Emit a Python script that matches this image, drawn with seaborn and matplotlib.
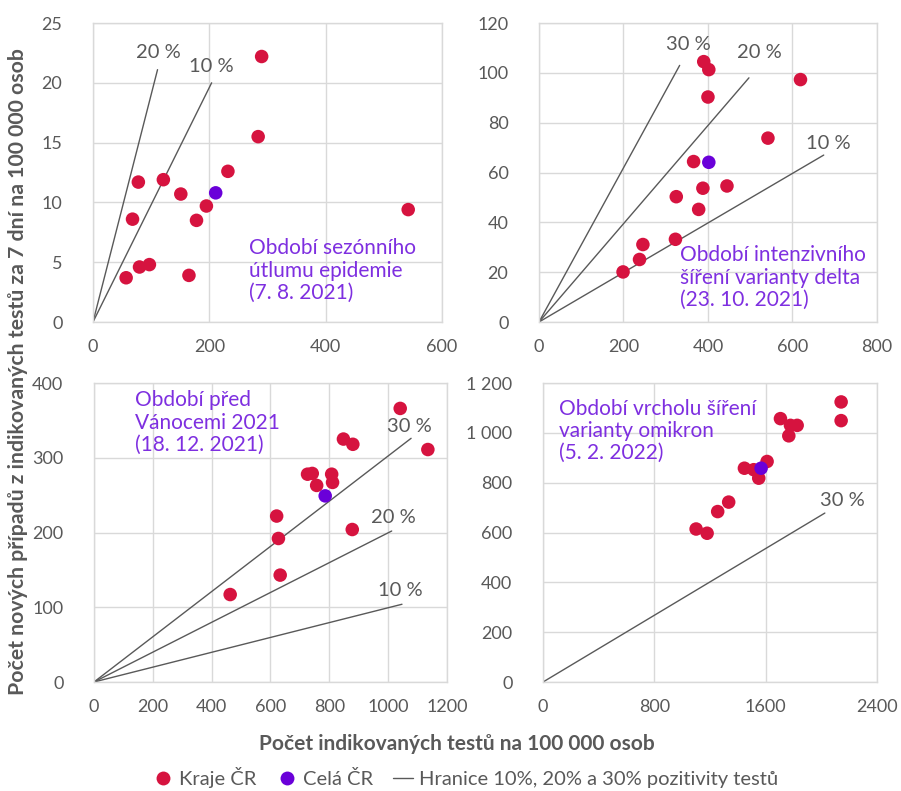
import numpy as np
import pandas as pd
import matplotlib.pyplot as plt
import seaborn as sns
from matplotlib.lines import Line2D

plt.switch_backend("Agg")

# --- data ---
# panel 1: 7. 8. 2021
p1_kraje_x = [290, 284, 232, 121, 78, 151, 195, 178, 68, 542, 80, 97, 57, 165]
p1_kraje_y = [22.2, 15.5, 12.6, 11.9, 11.7, 10.7, 9.7, 8.5, 8.6, 9.4, 4.6, 4.8, 3.7, 3.9]
p1_cr_x = [211]
p1_cr_y = [10.8]
p1_lines = ["20 %", "10 %"]
p1_line_x = [111, 204]
p1_line_y = [21.1, 20.0]
p1_label_x = [112, 204]
p1_label_y = [22.5, 21.4]

# panel 2: 23. 10. 2021
p2_kraje_x = [390, 402, 400, 619, 542, 366, 388, 445, 325, 378, 323, 246, 238, 199]
p2_kraje_y = [104.5, 101.3, 90.3, 97.3, 73.8, 64.4, 53.7, 54.6, 50.3, 45.2, 33.2, 31.1, 25.1, 20.1]
p2_cr_x = [402]
p2_cr_y = [64.1]
p2_lines = ["30 %", "20 %", "10 %"]
p2_line_x = [333, 497, 674]
p2_line_y = [103, 98, 67]
p2_label_x = [354, 522, 684]
p2_label_y = [111.3, 108, 71.8]

# panel 3: 18. 12. 2021
p3_kraje_x = [1041, 1135, 848, 880, 726, 742, 808, 811, 757, 621, 627, 878, 633, 463]
p3_kraje_y = [366, 311, 325, 318, 278, 279, 278, 267, 263, 222, 192, 204, 143, 117]
p3_cr_x = [786]
p3_cr_y = [249]
p3_lines = ["30 %", "20 %", "10 %"]
p3_line_x = [1078, 1012, 1047]
p3_line_y = [326, 202, 104]
p3_label_x = [1071, 1017, 1043]
p3_label_y = [342, 220, 123]

# panel 4: 5. 2. 2022
p4_kraje_x = [2142, 2142, 1706, 1778, 1826, 1766, 1610, 1447, 1514, 1550, 1334, 1255, 1100, 1179]
p4_kraje_y = [1124, 1049, 1057, 1030, 1030, 988, 885, 858, 852, 818, 722, 684, 614, 597]
p4_cr_x = [1567]
p4_cr_y = [858]
p4_lines = ["30 %"]
p4_line_x = [2025]
p4_line_y = [678]
p4_label_x = [2149]
p4_label_y = [728]

titles = [
    "Období sezónního\nútlumu epidemie\n(7. 8. 2021)",
    "Období intenzivního\nšíření varianty delta\n(23. 10. 2021)",
    "Období před\nVánocemi 2021\n(18. 12. 2021)",
    "Období vrcholu šíření\nvarianty omikron\n(5. 2. 2022)",
]
x_ticks = [[0, 200, 400, 600], [0, 200, 400, 600, 800],
           [0, 200, 400, 600, 800, 1000, 1200], [0, 800, 1600, 2400]]
y_ticks = [[0, 5, 10, 15, 20, 25], [0, 20, 40, 60, 80, 100, 120],
           [0, 100, 200, 300, 400], [0, 200, 400, 600, 800, 1000, 1200]]
y_ticklabels_p4 = ["0", "200", "400", "600", "800", "1 000", "1 200"]

RED = "#D6133F"
PURPLE = "#6A00D9"
TXT_PURPLE = "#7E2FE0"
GREY = "#595959"
GRID = "#D9D9D9"

sns.set_style("white")
plt.rcParams["font.family"] = ["Lato", "DejaVu Sans"]

fig = plt.figure(figsize=(9.01, 7.91), dpi=100)
positions = [
    [0.1032, 0.5929, 0.3873, 0.378],
    [0.5982, 0.5929, 0.3751, 0.378],
    [0.1043, 0.1378, 0.3918, 0.378],
    [0.6027, 0.1378, 0.3707, 0.378],
]
text_pos = [(0.448, 0.28), (0.417, 0.256), (0.116, 0.975), (0.049, 0.948)]

panels = [
    (p1_kraje_x, p1_kraje_y, p1_cr_x, p1_cr_y, p1_lines, p1_line_x, p1_line_y, p1_label_x, p1_label_y),
    (p2_kraje_x, p2_kraje_y, p2_cr_x, p2_cr_y, p2_lines, p2_line_x, p2_line_y, p2_label_x, p2_label_y),
    (p3_kraje_x, p3_kraje_y, p3_cr_x, p3_cr_y, p3_lines, p3_line_x, p3_line_y, p3_label_x, p3_label_y),
    (p4_kraje_x, p4_kraje_y, p4_cr_x, p4_cr_y, p4_lines, p4_line_x, p4_line_y, p4_label_x, p4_label_y),
]

for i, (kx, ky, cx, cy, lnames, lx, ly, tx, ty) in enumerate(panels):
    ax = fig.add_axes(positions[i])
    # hranice pozitivity
    for j in range(len(lnames)):
        ax.plot([0, lx[j]], [0, ly[j]], color=GREY, lw=1.0, zorder=2)
        ax.text(tx[j], ty[j], lnames[j], color=GREY, fontsize=14.5,
                ha="center", va="center", zorder=4)
    df = pd.DataFrame({"x": kx + cx, "y": ky + cy,
                       "grp": ["Kraje ČR"] * len(kx) + ["Celá ČR"] * len(cx)})
    sns.scatterplot(data=df, x="x", y="y", hue="grp",
                    palette={"Kraje ČR": RED, "Celá ČR": PURPLE},
                    s=95, linewidth=0, legend=False, ax=ax, zorder=3)
    ax.set_xlim(x_ticks[i][0], x_ticks[i][-1])
    ax.set_ylim(y_ticks[i][0], y_ticks[i][-1])
    ax.set_xticks(x_ticks[i])
    ax.set_yticks(y_ticks[i])
    if i == 3:
        ax.set_yticklabels(y_ticklabels_p4)
    ax.set_xlabel("")
    ax.set_ylabel("")
    ax.grid(True, color=GRID, lw=1.0)
    ax.set_axisbelow(True)
    for sp in ax.spines.values():
        sp.set_color(GRID)
        sp.set_linewidth(1.0)
    ax.tick_params(axis="both", length=0, labelsize=13, labelcolor=GREY)
    ax.tick_params(axis="x", pad=12)
    ax.tick_params(axis="y", pad=22)
    ax.text(text_pos[i][0], text_pos[i][1], titles[i], transform=ax.transAxes,
            color=TXT_PURPLE, fontsize=15, ha="left", va="top", linespacing=1.15)

fig.text(0.507, 0.059, "Počet indikovaných testů na 100 000 osob", ha="center",
         va="center", fontsize=15, fontweight="bold", color=GREY)
fig.text(0.02, 0.53, "Počet nových případů z indikovaných testů za 7 dní na 100 000 osob",
         ha="center", va="center", rotation=90, fontsize=15.3, fontweight="bold", color=GREY)

handles = [
    Line2D([], [], marker="o", color="none", markerfacecolor=RED, markeredgecolor="none", markersize=10),
    Line2D([], [], marker="o", color="none", markerfacecolor=PURPLE, markeredgecolor="none", markersize=10),
    Line2D([], [], color=GREY, lw=1.0),
]
fig.legend(handles, ["Kraje ČR", "Celá ČR", "Hranice 10%, 20% a 30% pozitivity testů"],
           loc="center", bbox_to_anchor=(0.517, 0.017), ncol=3, frameon=False,
           fontsize=14.5, handlelength=1.0, handletextpad=0.3, columnspacing=1.0,
           labelcolor=GREY)

fig.savefig("out.png", dpi=100)
